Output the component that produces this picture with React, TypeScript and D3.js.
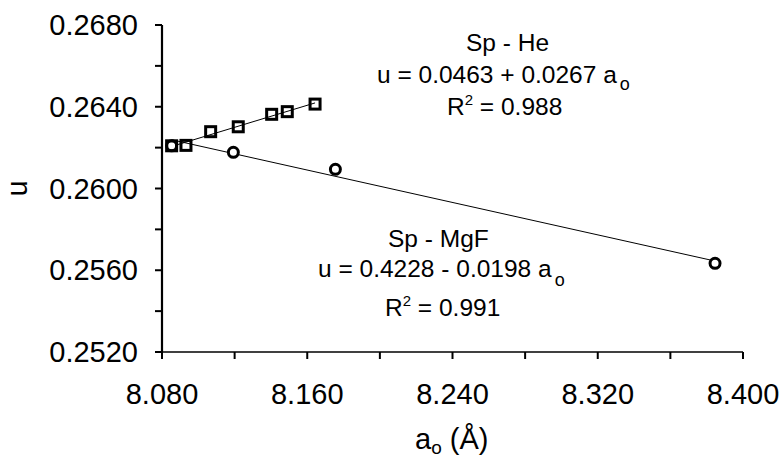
import React from "react";
import * as d3 from "d3";

const heX = [8.0853, 8.0932, 8.1068, 8.122, 8.1404, 8.149, 8.1643];
const heU = [0.26209, 0.26211, 0.26278, 0.26302, 0.26363, 0.26376, 0.26413];
const mgX = [8.0853, 8.1193, 8.1755, 8.3846];
const mgU = [0.26209, 0.26177, 0.26094, 0.25634];

const xTicks = [8.08, 8.12, 8.16, 8.2, 8.24, 8.28, 8.32, 8.36, 8.4];
const xLabels = ["8.080", "8.160", "8.240", "8.320", "8.400"];
const yTicks = [0.252, 0.254, 0.256, 0.258, 0.26, 0.262, 0.264, 0.266, 0.268];
const yLabels = ["0.2520", "0.2560", "0.2600", "0.2640", "0.2680"];

function fit(xs: number[], ys: number[]) {
  const mx = d3.mean(xs)!;
  const my = d3.mean(ys)!;
  let sxy = 0, sxx = 0;
  xs.forEach((x, i) => { sxy += (x - mx) * (ys[i] - my); sxx += (x - mx) * (x - mx); });
  const b = sxy / sxx;
  return { a: my - b * mx, b };
}

export default function App() {
  const W = 781, H = 458;
  const x = d3.scaleLinear().domain([8.08, 8.4]).range([162, 743]);
  const y = d3.scaleLinear().domain([0.252, 0.268]).range([352, 25]);
  const font = "Arial, 'Liberation Sans', sans-serif";
  const fHe = fit(heX, heU);
  const fMg = fit(mgX, mgU);
  const lineGen = d3.line<[number, number]>().x((d) => x(d[0])).y((d) => y(d[1]));
  const heExt = d3.extent(heX) as [number, number];
  const mgExt = d3.extent(mgX) as [number, number];
  const heLine = lineGen(heExt.map((v) => [v, fHe.a + fHe.b * v] as [number, number]));
  const mgLine = lineGen(mgExt.map((v) => [v, fMg.a + fMg.b * v] as [number, number]));
  return (
    <svg width={W} height={H} style={{ position: "absolute", left: 0, top: 0, background: "#fff" }} fontFamily={font}>
      <path d={heLine!} stroke="#000" strokeWidth={1} fill="none" />
      <path d={mgLine!} stroke="#000" strokeWidth={1} fill="none" />
      <line x1={162} x2={162} y1={y(0.268)} y2={352} stroke="#000" strokeWidth={2.2} />
      <line x1={162} x2={x(8.4)} y1={352} y2={352} stroke="#000" strokeWidth={1.6} />
      {yTicks.map((t) => (
        <line key={"yt" + t} x1={155} x2={162} y1={y(t)} y2={y(t)} stroke="#000" strokeWidth={2} />
      ))}
      {xTicks.map((t) => (
        <line key={"xt" + t} x1={x(t)} x2={x(t)} y1={352} y2={359} stroke="#000" strokeWidth={2} />
      ))}
      {yLabels.map((l) => (
        <text key={l} x={138} y={y(+l)} dy="0.35em" textAnchor="end" fontSize={29} fill="#000">{l}</text>
      ))}
      {xLabels.map((l) => (
        <text key={l} x={x(+l)} y={404} textAnchor="middle" fontSize={29} fill="#000">{l}</text>
      ))}
      <text x={415} y={449} fontSize={29} fill="#000">
        a<tspan fontSize={19} dy={5}>o</tspan><tspan dy={-5}> (Å)</tspan>
      </text>
      <text transform={`translate(27,${y(0.26)}) rotate(-90)`} textAnchor="middle" fontSize={29} fill="#000">u</text>
      {mgX.map((v, i) => (
        <circle key={"c" + i} cx={x(v)} cy={y(mgU[i])} r={5} fill="#fff" stroke="#000" strokeWidth={3} />
      ))}
      {heX.map((v, i) => (
        <rect key={"s" + i} x={x(v) - 5} y={y(heU[i]) - 5} width={10} height={10} fill="none" stroke="#000" strokeWidth={3} />
      ))}
      <g fontSize={24.5} fill="#000" style={{ whiteSpace: "pre" }}>
        <text x={466} y={51}>Sp - He</text>
        <text x={377} y={83}>{"u = 0.0463 +  0.0267 a"}<tspan fontSize={18} dx={3} dy={7}>o</tspan></text>
        <text x={447} y={115}>R<tspan fontSize={15} dy={-10}>2</tspan><tspan dy={10}>{" = 0.988"}</tspan></text>
        <text x={388} y={247}>Sp - MgF</text>
        <text x={318} y={277}>{"u = 0.4228 - 0.0198 a"}<tspan fontSize={18} dx={3} dy={9}>o</tspan></text>
        <text x={385} y={316}>R<tspan fontSize={15} dy={-10}>2</tspan><tspan dy={10}>{" = 0.991"}</tspan></text>
      </g>
    </svg>
  );
}
